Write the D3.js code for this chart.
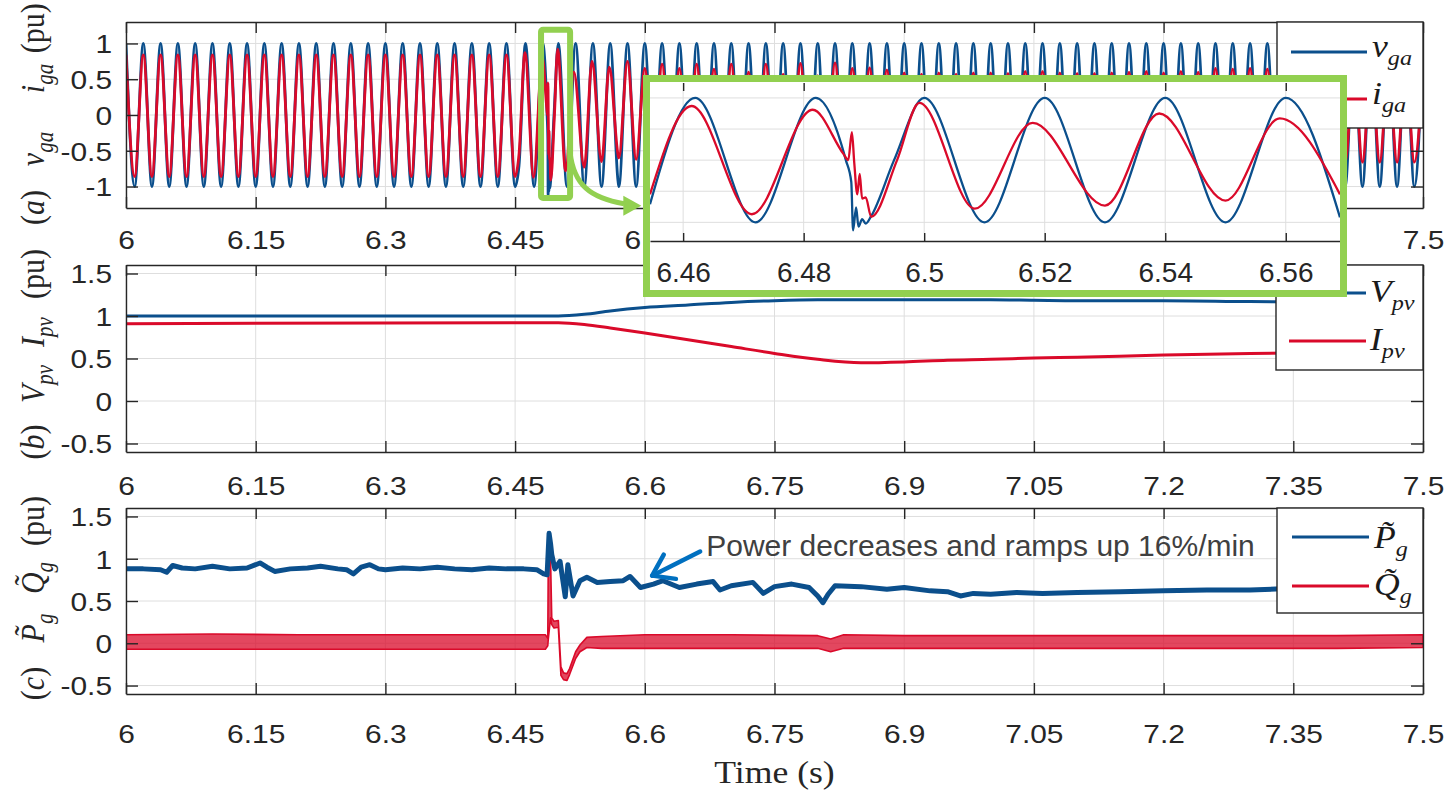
<!DOCTYPE html>
<html><head><meta charset="utf-8">
<script src="https://cdn.jsdelivr.net/npm/d3@7/dist/d3.min.js"></script>
<style>html,body{margin:0;padding:0;background:#fff}svg{display:block}</style>
</head><body>
<svg id="chart" width="1449" height="794"></svg>
<script>
// ================= DATA =================
const xTicks = [6, 6.15, 6.3, 6.45, 6.6, 6.75, 6.9, 7.05, 7.2, 7.35, 7.5];
const xTickLabels = ["6","6.15","6.3","6.45","6.6","6.75","6.9","7.05","7.2","7.35","7.5"];
const yTicksA = [-1, -0.5, 0, 0.5, 1];
const yTickLabelsA = ["-1","-0.5","0","0.5","1"];
const yTicksBC = [-0.5, 0, 0.5, 1, 1.5];
const yTickLabelsBC = ["-0.5","0","0.5","1","1.5"];
const zoomTicks = [6.46, 6.48, 6.5, 6.52, 6.54, 6.56];
const zoomTickLabels = ["6.46","6.48","6.5","6.52","6.54","6.56"];

// (a) 50 Hz waveforms: read extremes, first peak at 6.00 s, one extreme every half cycle
const cycleStart = 6.0, halfCycle = 0.01;
const vgaPeaks = [
 1,1,1,1,1,1,1,1,1,1, 1,1,1,1,1,1,1,1,1,1, 1,1,1,1,1,1,1,1,1,1,
 1,1,1,1,1,1,1,1,1,1, 1,1,1,1,1,1,1,1,1,1, 1,1,1,1,1,1,1,1,1,1,
 1,1,1,1,1,1,1,1,1,1, 1,1,1,1,1,1];
const vgaTroughs = [
 -1,-1,-1,-1,-1,-1,-1,-1,-1,-1, -1,-1,-1,-1,-1,-1,-1,-1,-1,-1, -1,-1,-1,-1,-1,-1,-1,-1,-1,-1,
 -1,-1,-1,-1,-1,-1,-1,-1,-1,-1, -1,-1,-1,-1,-1,-1,-1,-1,-1,-1, -1,-1,-1,-1,-1,-1,-1,-1,-1,-1,
 -1,-1,-1,-1,-1,-1,-1,-1,-1,-1, -1,-1,-1,-1,-1];
const igaPeaks = [
 0.84,0.84,0.84,0.84,0.84,0.84,0.84,0.84,0.84,0.84,
 0.84,0.84,0.84,0.84,0.84,0.84,0.84,0.84,0.84,0.84,
 0.84,0.84,0.84,0.86,0.81,0.92,0.60,0.76,0.67,0.75,
 0.65,0.71,0.65,0.71,0.64,0.71,0.60,0.71,0.57,0.72,
 0.55,0.73,0.65,0.66,0.63,0.59,0.57,0.59,0.57,0.59,
 0.59,0.58,0.61,0.61,0.59,0.58,0.58,0.59,0.60,0.61,
 0.59,0.61,0.60,0.65,0.64,0.65,0.64,0.64,0.65,0.64,
 0.65,0.64,0.65,0.64,0.65,0.64];
const igaTroughs = [
 -0.86,-0.86,-0.86,-0.86,-0.86,-0.86,-0.86,-0.86,-0.86,-0.86,
 -0.86,-0.86,-0.86,-0.86,-0.86,-0.86,-0.86,-0.86,-0.86,-0.86,
 -0.86,-0.86,-0.86,-0.87,-0.91,-0.78,-0.73,-0.65,-0.60,-0.62,
 -0.68,-0.68,-0.68,-0.67,-0.67,-0.66,-0.66,-0.65,-0.65,-0.64,
 -0.64,-0.64,-0.63,-0.62,-0.61,-0.60,-0.60,-0.60,-0.60,-0.60,
 -0.61,-0.61,-0.62,-0.62,-0.61,-0.61,-0.62,-0.62,-0.63,-0.63,
 -0.64,-0.64,-0.65,-0.65,-0.66,-0.66,-0.66,-0.66,-0.66,-0.66,
 -0.66,-0.66,-0.66,-0.66,-0.66];
// detail around the fault
const zoomTv = [6.4545,6.462,6.472,6.482,6.487,6.4879,6.4882,6.4887,6.4891,6.4897,6.4903,6.4912,6.495,6.500,6.510,6.520,6.530,6.540,6.550,6.560,6.569];
const zoomV  = [-0.71,1.00,-1.00,1.00,0.00,-0.35,-1.13,-0.76,-1.07,-0.95,-1.02,-0.90,0.00,1.00,-1.00,1.00,-1.00,1.00,-1.00,1.00,-0.92];
const zoomTi = [6.4545,6.4614,6.4714,6.4815,6.4866,6.4874,6.4880,6.4884,6.4889,6.4893,6.4897,6.4903,6.4912,6.4955,6.4992,6.5084,6.5180,6.5300,6.5390,6.5500,6.5590,6.5690];
const zoomI  = [-0.55,0.87,-0.87,0.81,0.10,0.00,0.45,-0.05,-0.55,-0.22,-0.62,-0.60,-0.91,0.00,0.92,-0.78,0.60,-0.73,0.75,-0.65,0.67,-0.55];

// (b) PV voltage / current
const pvT = [6.00,6.45,6.50,6.53,6.56,6.60,6.65,6.70,6.75,6.80,6.85,6.90,6.95,7.00,7.05,7.10,7.20,7.30,7.40,7.50];
const vpv = [1.00,1.00,1.00,1.02,1.06,1.10,1.13,1.16,1.18,1.19,1.19,1.19,1.19,1.19,1.185,1.18,1.18,1.17,1.165,1.16];
const ipv = [0.91,0.92,0.92,0.90,0.86,0.80,0.72,0.64,0.56,0.49,0.45,0.46,0.48,0.49,0.505,0.515,0.54,0.56,0.57,0.58];

// (c) active power
const pT = [6.000,6.020,6.040,6.047,6.054,6.065,6.080,6.100,6.120,6.140,6.155,6.163,6.172,6.190,6.210,6.225,6.245,6.255,6.263,6.272,6.282,6.292,6.300,6.320,6.340,6.360,6.380,6.400,6.420,6.440,6.460,6.475,6.483,6.487,6.4893,6.4910,6.4924,6.496,6.502,6.508,6.511,6.517,6.525,6.533,6.545,6.560,6.575,6.583,6.595,6.610,6.621,6.640,6.660,6.679,6.687,6.700,6.725,6.737,6.750,6.770,6.790,6.800,6.806,6.812,6.820,6.850,6.880,6.900,6.930,6.950,6.965,6.980,7.000,7.030,7.060,7.100,7.150,7.200,7.250,7.300,7.350,7.400,7.450,7.500];
const pV = [0.88,0.88,0.87,0.84,0.92,0.89,0.88,0.91,0.88,0.89,0.95,0.90,0.85,0.88,0.89,0.91,0.88,0.87,0.82,0.90,0.93,0.88,0.87,0.89,0.88,0.90,0.88,0.87,0.89,0.88,0.88,0.87,0.82,0.81,1.30,1.18,1.05,0.88,0.97,0.55,0.93,0.56,0.74,0.78,0.72,0.73,0.74,0.79,0.66,0.70,0.74,0.66,0.70,0.73,0.63,0.68,0.72,0.59,0.67,0.70,0.66,0.56,0.48,0.58,0.68,0.67,0.64,0.66,0.62,0.61,0.56,0.59,0.58,0.60,0.59,0.60,0.61,0.62,0.63,0.63,0.65,0.64,0.65,0.65];
// (c) reactive power ripple band (upper / lower envelope)
const qT  = [6.000,6.100,6.200,6.300,6.400,6.485,6.4878,6.4884,6.4910,6.4924,6.4950,6.5000,6.5030,6.5060,6.5100,6.5130,6.5200,6.5250,6.5330,6.5500,6.6000,6.7000,6.8000,6.8150,6.8300,6.9000,7.0000,7.2000,7.4000,7.5000];
const qHi = [0.10,0.11,0.10,0.10,0.10,0.10,0.06,1.00,1.00,0.30,0.26,0.27,-0.28,-0.35,-0.36,-0.30,-0.10,-0.02,0.07,0.08,0.10,0.10,0.09,0.05,0.10,0.09,0.09,0.09,0.09,0.10];
const qLo = [-0.07,-0.07,-0.07,-0.07,-0.07,-0.07,-0.03,0.05,0.30,0.22,0.18,0.19,-0.38,-0.43,-0.44,-0.37,-0.18,-0.10,-0.05,-0.06,-0.06,-0.06,-0.06,-0.10,-0.06,-0.06,-0.06,-0.06,-0.06,-0.05];

// annotation
const noteText = "Power decreases and ramps up 16%/min";

// ================= STYLE / LAYOUT =================
const BLUE = '#0B4F8C', RED = '#DA0A2A', AXIS = '#262626', GRID = '#dedede', GREEN = '#92D050', ARROW = '#0070C0';
const SX = 1.15;
const SANS = '"Liberation Sans", Arial, Helvetica, sans-serif';
const SERIF = '"Liberation Serif", "Times New Roman", serif';
const L = 126, R = 1423;

const svg = d3.select('#chart');
const defs = svg.append('defs');
const x = d3.scaleLinear().domain([6, 7.5]).range([L, R]);

const P = {
  a: {top: 22, bottom: 208, yDom: [-1.3, 1.3], yTicks: yTicksA, yLabels: yTickLabelsA, lblBase: 41.5},
  b: {top: 265, bottom: 452, yDom: [-0.6, 1.6], yTicks: yTicksBC, yLabels: yTickLabelsBC, lblBase: 43.5},
  c: {top: 508, bottom: 694, yDom: [-0.6, 1.6], yTicks: yTicksBC, yLabels: yTickLabelsBC, lblBase: 48.7}
};

function zip(t, v) { return t.map((d, i) => [d, v[i]]); }
function extremes(peaks, troughs) {
  const pts = [];
  peaks.forEach((pk, k) => {
    pts.push([cycleStart + 2 * k * halfCycle, pk]);
    if (k < troughs.length) pts.push([cycleStart + (2 * k + 1) * halfCycle, troughs[k]]);
  });
  return pts;
}
function merge(base, zt, zv) {
  const t0 = zt[0], t1 = zt[zt.length - 1];
  return base.filter(p => p[0] < t0 - 1e-9).concat(zip(zt, zv), base.filter(p => p[0] > t1 + 1e-9));
}

function setupPanel(p, id) {
  const y = d3.scaleLinear().domain(p.yDom).range([p.bottom, p.top]);
  const g = svg.append('g');
  defs.append('clipPath').attr('id', 'clip' + id).append('rect')
    .attr('x', L).attr('y', p.top).attr('width', R - L).attr('height', p.bottom - p.top);
  g.append('rect').attr('x', L).attr('y', p.top).attr('width', R - L).attr('height', p.bottom - p.top).attr('fill', '#fff');
  const grid = g.append('g').attr('stroke', GRID).attr('stroke-width', 1);
  grid.selectAll('line.gv').data(xTicks).join('line').attr('class', 'gv')
    .attr('x1', d => x(d)).attr('x2', d => x(d)).attr('y1', p.top).attr('y2', p.bottom);
  grid.selectAll('line.gh').data(p.yTicks).join('line').attr('class', 'gh')
    .attr('x1', L).attr('x2', R).attr('y1', d => y(d)).attr('y2', d => y(d));
  const plot = g.append('g').attr('clip-path', `url(#clip${id})`);
  return {g, y, plot};
}

function drawAxes(g, y, p) {
  const mk = (axis, tx, ty) => g.append('g').attr('transform', `translate(${tx},${ty})`).call(axis)
    .call(s => {
      s.attr('font-family', SANS).attr('font-size', 26).attr('color', AXIS);
      s.selectAll('path.domain, .tick line').attr('stroke-width', 1.4);
    });
  const b = mk(d3.axisBottom(x).tickValues(xTicks).tickSizeInner(-11).tickSizeOuter(0).tickFormat((d, i) => xTickLabels[i]), 0, p.bottom);
  b.selectAll('text').attr('y', p.lblBase).attr('dy', null).attr('transform', `scale(${SX},1)`);
  mk(d3.axisTop(x).tickValues(xTicks).tickSizeInner(-11).tickSizeOuter(0).tickFormat(() => ''), 0, p.top);
  const l = mk(d3.axisLeft(y).tickValues(p.yTicks).tickSizeInner(-12).tickSizeOuter(0).tickFormat((d, i) => p.yLabels[i]), L, 0);
  l.selectAll('text').attr('x', -14 / SX).attr('dy', '0.36em').attr('transform', `scale(${SX},1)`);
  mk(d3.axisRight(y).tickValues(p.yTicks).tickSizeInner(-12).tickSizeOuter(0).tickFormat(() => ''), R, 0);
}

function rich(t, parts, subShift, subSize) {
  let shift = 0;
  parts.forEach(pt => {
    const ts = t.append('tspan').text(pt.t);
    if (pt.it) ts.attr('font-style', 'italic');
    const want = pt.sub ? subShift : 0;
    if (want - shift) ts.attr('dy', want - shift);
    shift = want;
    if (pt.sub) ts.attr('font-size', subSize);
    if (pt.dx) ts.attr('dx', pt.dx);
  });
}

function legend(box, items) {
  const lg = svg.append('g');
  lg.append('rect').attr('x', box.x).attr('y', box.y).attr('width', box.w).attr('height', box.h)
    .attr('fill', '#fff').attr('stroke', AXIS).attr('stroke-width', 1.4);
  items.forEach(it => {
    lg.append('line').attr('x1', box.l0).attr('x2', box.l1).attr('y1', it.y).attr('y2', it.y)
      .attr('stroke', it.color).attr('stroke-width', 3);
    const t = lg.append('text').attr('transform', `translate(${box.tx},${it.y + it.base}) scale(${SX},1)`)
      .attr('font-family', SERIF).attr('font-size', 31).attr('fill', '#1a1a1a');
    rich(t, it.parts, 8, 21);
  });
}

function yLabel(cy, groups) {
  groups.forEach(gr => {
    const t = svg.append('text')
      .attr('transform', `translate(44,${cy + gr.off}) scale(${SX},1) rotate(-90)`)
      .attr('text-anchor', 'middle').attr('font-family', SERIF).attr('font-size', 30).attr('fill', '#262626');
    rich(t, gr.parts, 8, 21);
  });
}

const mono = d3.curveMonotoneX;

// ================= PANEL (a) =================
const A = setupPanel(P.a, 'a');
const vSeries = merge(extremes(vgaPeaks, vgaTroughs), zoomTv, zoomV);
const iSeries = merge(extremes(igaPeaks, igaTroughs), zoomTi, zoomI);
const lineA = d3.line().x(d => x(d[0])).y(d => A.y(d[1])).curve(mono);
A.plot.append('path').datum(vSeries).attr('d', lineA).attr('fill', 'none').attr('stroke', BLUE).attr('stroke-width', 2.8);
A.plot.append('path').datum(iSeries).attr('d', lineA).attr('fill', 'none').attr('stroke', RED).attr('stroke-width', 2.8);
drawAxes(A.g, A.y, P.a);
legend({x: 1277, y: 22, w: 146, h: 106, l0: 1291, l1: 1367, tx: 1372}, [
  {y: 52, base: 5, color: BLUE, parts: [{t: 'v', it: 1}, {t: 'ga', it: 1, sub: 1}]},
  {y: 99, base: 5, color: RED, parts: [{t: 'i', it: 1}, {t: 'ga', it: 1, sub: 1}]}
]);
yLabel((P.a.top + P.a.bottom) / 2, [
  {off: 92.5, parts: [{t: '('}, {t: 'a', it: 1}, {t: ')'}]},
  {off: 34, parts: [{t: 'v', it: 1}, {t: 'ga', it: 1, sub: 1}]},
  {off: -36.5, parts: [{t: 'i', it: 1}, {t: 'ga', it: 1, sub: 1}]},
  {off: -86.7, parts: [{t: '(pu)'}]}
]);

// ================= PANEL (b) =================
const B = setupPanel(P.b, 'b');
const lineB = d3.line().x(d => x(d[0])).y(d => B.y(d[1])).curve(mono);
B.plot.append('path').datum(zip(pvT, vpv)).attr('d', lineB).attr('fill', 'none').attr('stroke', BLUE).attr('stroke-width', 3);
B.plot.append('path').datum(zip(pvT, ipv)).attr('d', lineB).attr('fill', 'none').attr('stroke', RED).attr('stroke-width', 3);
drawAxes(B.g, B.y, P.b);
legend({x: 1276, y: 265, w: 147, h: 105, l0: 1289, l1: 1366, tx: 1370}, [
  {y: 293, base: 9, color: BLUE, parts: [{t: 'V', it: 1}, {t: 'pv', it: 1, sub: 1}]},
  {y: 341, base: 9, color: RED, parts: [{t: 'I', it: 1}, {t: 'pv', it: 1, sub: 1}]}
]);
yLabel((P.b.top + P.b.bottom) / 2, [
  {off: 83.5, parts: [{t: '('}, {t: 'b', it: 1}, {t: ')'}]},
  {off: 25.5, parts: [{t: 'V', it: 1}, {t: 'pv', it: 1, sub: 1}]},
  {off: -26.5, parts: [{t: 'I', it: 1}, {t: 'pv', it: 1, sub: 1}]},
  {off: -84.5, parts: [{t: '(pu)'}]}
]);

// ================= PANEL (c) =================
const C = setupPanel(P.c, 'c');
const areaQ = d3.area().x((d, i) => x(qT[i])).y0((d, i) => C.y(qLo[i])).y1((d, i) => C.y(qHi[i]));
C.plot.append('path').datum(qT).attr('d', areaQ).attr('fill', RED).attr('fill-opacity', 0.75)
  .attr('stroke', RED).attr('stroke-width', 1.6).attr('stroke-linejoin', 'round');
const lineC = d3.line().x(d => x(d[0])).y(d => C.y(d[1]));
C.plot.append('path').datum(zip(pT, pV)).attr('d', lineC).attr('fill', 'none').attr('stroke', BLUE)
  .attr('stroke-width', 5).attr('stroke-linejoin', 'round');
drawAxes(C.g, C.y, P.c);
legend({x: 1277, y: 508, w: 146, h: 105, l0: 1292, l1: 1369, tx: 1374}, [
  {y: 537, base: 11, color: BLUE, parts: [{t: 'P\u0303', it: 1}, {t: 'g', it: 1, sub: 1}]},
  {y: 586, base: 9, color: RED, parts: [{t: 'Q\u0303', it: 1}, {t: 'g', it: 1, sub: 1}]}
]);
yLabel((P.c.top + P.c.bottom) / 2, [
  {off: 82.5, parts: [{t: '('}, {t: 'c', it: 1}, {t: ')'}]},
  {off: 27, parts: [{t: 'P\u0303', it: 1}, {t: 'g', it: 1, sub: 1}]},
  {off: -23, parts: [{t: 'Q\u0303', it: 1}, {t: 'g', it: 1, sub: 1}]},
  {off: -80, parts: [{t: '(pu)'}]}
]);

// annotation in panel (c) placed in data units
const tip = [x(6.6085), C.y(0.80)], tail = [x(6.664), C.y(1.085)];
const ang = Math.atan2(tail[1] - tip[1], tail[0] - tip[0]);
const wing = a => [tip[0] + 24 * Math.cos(ang + a), tip[1] + 24 * Math.sin(ang + a)];
const ann = svg.append('g').attr('stroke', ARROW).attr('stroke-width', 4.5).attr('fill', 'none').attr('stroke-linecap', 'round').attr('stroke-linejoin', 'round');
ann.append('path').attr('d', d3.line()([tail, tip]));
ann.append('path').attr('d', d3.line()([wing(-0.6), tip, wing(0.6)]));
svg.append('text').attr('x', x(6.671)).attr('y', C.y(1.03)).attr('font-family', SANS).attr('font-size', 30)
  .attr('fill', '#404040').text(noteText);

// x label
svg.append('text').attr('transform', `translate(${(L + R) / 2},783) scale(${SX},1)`).attr('text-anchor', 'middle')
  .attr('font-family', SERIF).attr('font-size', 31).attr('fill', '#262626').text('Time (s)');

// ================= ZOOM MARKER + ARROW (panel a, data units) =================
svg.append('rect').attr('x', x(6.4800)).attr('y', A.y(1.19)).attr('width', x(6.5136) - x(6.4800))
  .attr('height', A.y(-1.16) - A.y(1.19)).attr('rx', 2).attr('fill', 'none').attr('stroke', GREEN).attr('stroke-width', 6);
const arrowPts = [[6.5135, -0.52], [6.5180, -0.98], [6.5370, -1.16], [6.5760, -1.24]].map(d => [x(d[0]), A.y(d[1])]);
svg.append('path').attr('d', `M${arrowPts[0]} C${arrowPts[1]} ${arrowPts[2]} ${arrowPts[3]}`)
  .attr('fill', 'none').attr('stroke', GREEN).attr('stroke-width', 5);
const gTip = [x(6.5960), A.y(-1.27)];
svg.append('path').attr('d', d3.line()([gTip, [gTip[0] - 18, gTip[1] - 10], [gTip[0] - 18, gTip[1] + 10]]) + 'Z')
  .attr('fill', GREEN);

// ================= INSET =================
const xi = d3.scaleLinear().domain([6.4545, 6.569]).range([650, 1340]);
const yi = d3.scaleLinear().domain([-1.3, 1.24]).range([241, 83]);
const ins = svg.append('g');
ins.append('rect').attr('x', 646.5).attr('y', 78.5).attr('width', 697).attr('height', 215).attr('fill', '#fff');
defs.append('clipPath').attr('id', 'clipI').append('rect').attr('x', 650).attr('y', 83).attr('width', 690).attr('height', 158);
const ig = ins.append('g').attr('stroke', GRID).attr('stroke-width', 1);
ig.selectAll('line.gv').data(zoomTicks).join('line').attr('class', 'gv')
  .attr('x1', d => xi(d)).attr('x2', d => xi(d)).attr('y1', 83).attr('y2', 241);
ig.selectAll('line.gh').data(yTicksA).join('line').attr('class', 'gh')
  .attr('x1', 650).attr('x2', 1340).attr('y1', d => yi(d)).attr('y2', d => yi(d));
const lineI = d3.line().x(d => xi(d[0])).y(d => yi(d[1])).curve(mono);
const ip = ins.append('g').attr('clip-path', 'url(#clipI)');
ip.append('path').datum(zip(zoomTv, zoomV)).attr('d', lineI).attr('fill', 'none').attr('stroke', BLUE).attr('stroke-width', 2.3);
ip.append('path').datum(zip(zoomTi, zoomI)).attr('d', lineI).attr('fill', 'none').attr('stroke', RED).attr('stroke-width', 2.3);
const ib = ins.append('g').attr('transform', 'translate(0,241)')
  .call(d3.axisBottom(xi).tickValues(zoomTicks).tickSizeInner(-8).tickSizeOuter(0).tickFormat((d, i) => zoomTickLabels[i]))
  .attr('font-family', SANS).attr('font-size', 28).attr('color', AXIS);
ib.selectAll('path.domain, .tick line').attr('stroke-width', 1.4);
ib.selectAll('text').attr('y', 40.7).attr('dy', null);
const it2 = ins.append('g').attr('transform', 'translate(0,83)')
  .call(d3.axisTop(xi).tickValues(zoomTicks).tickSizeInner(-8).tickSizeOuter(0).tickFormat(() => ''))
  .attr('color', AXIS);
it2.select('path.domain').remove();
it2.selectAll('.tick line').attr('stroke-width', 1.4);
ins.append('rect').attr('x', 646.5).attr('y', 78.5).attr('width', 697).attr('height', 215)
  .attr('fill', 'none').attr('stroke', GREEN).attr('stroke-width', 7);
</script>
</body></html>
